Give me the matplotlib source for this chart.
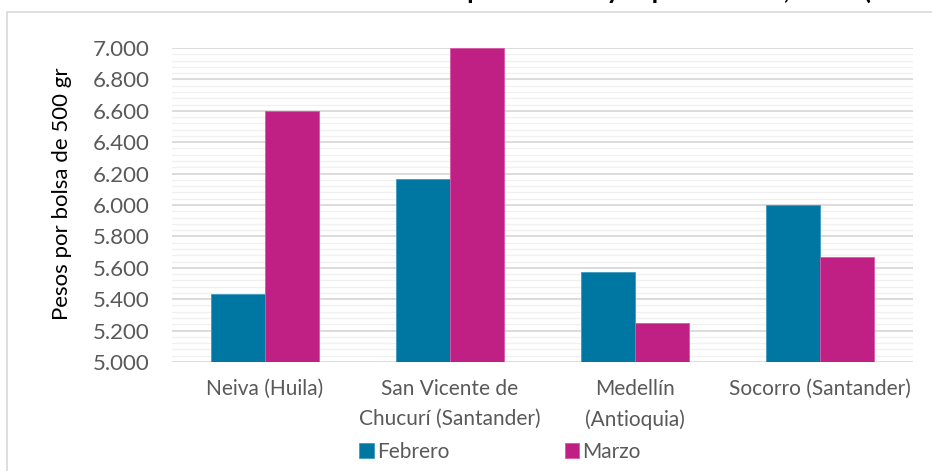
import matplotlib
matplotlib.use("Agg")
import matplotlib.pyplot as plt
from matplotlib.patches import Rectangle
from matplotlib.ticker import FuncFormatter, MultipleLocator
import numpy as np

plt.rcParams['font.family'] = ['Lato', 'DejaVu Sans']

categories = ["Neiva (Huila)", "San Vicente de\nChucurí (Santander)",
              "Medellín\n(Antioquia)", "Socorro (Santander)"]
febrero = [5433, 6167, 5571, 6000]
marzo = [6600, 7000, 5250, 5667]
series_names = ["Febrero", "Marzo"]
title = "Precios de la mata de cacao en los municipios con mayor producción, 2015 (Pesos)"
ylabel = "Pesos por bolsa de 500 gr"

c_feb = "#0077A3"
c_mar = "#C01F83"

fig = plt.figure(figsize=(9.32, 4.71), dpi=100)

# chart frame
fig.patches.append(Rectangle((7 / 932, -0.1), 1.2, 1 - 12 / 471 + 0.1,
                             transform=fig.transFigure, fill=False,
                             edgecolor="#D9D9D9", linewidth=1.2, zorder=0))

fig.text(0.5, 1 + 1 / 471, title, ha="center", va="baseline",
         fontsize=19, fontweight="bold", color="black")

ax = fig.add_axes([172 / 932, 1 - 362 / 471, (913 - 172) / 932, (362 - 48) / 471])
x = np.arange(len(categories))
w = 0.292
ax.bar(x - w / 2, febrero, w, color=c_feb, edgecolor="#3d9bc0", linewidth=0.6,
       label=series_names[0], zorder=3)
ax.bar(x + w / 2, marzo, w, color=c_mar, edgecolor="#d75aa6", linewidth=0.6,
       label=series_names[1], zorder=3)

ax.set_xlim(-0.5, len(categories) - 0.5)
ax.set_ylim(5000, 7000)
ax.yaxis.set_major_locator(MultipleLocator(200))
ax.yaxis.set_minor_locator(MultipleLocator(40))
ax.yaxis.set_major_formatter(FuncFormatter(lambda v, p: f"{v:,.0f}".replace(",", ".")))
ax.grid(which="major", axis="y", color="#D9D9D9", linewidth=1.3, zorder=0)
ax.grid(which="minor", axis="y", color="#F0F0F0", linewidth=1.0, zorder=0)
ax.set_axisbelow(True)
for s in ax.spines.values():
    s.set_visible(False)
ax.tick_params(axis="both", which="both", length=0)
ax.tick_params(axis="y", labelsize=16, labelcolor="#595959", pad=16)
ax.set_xticks(x)
ax.set_xticklabels(categories, fontsize=15, color="#595959", linespacing=1.65)
ax.tick_params(axis="x", pad=12)
ax.set_ylabel(ylabel, fontsize=16, color="black")
ax.yaxis.set_label_coords((72 - 172) / 741, (362 - 194) / 314)

leg = fig.legend(loc="center", bbox_to_anchor=(500 / 932, 1 - 452 / 471), ncol=2,
                 frameon=False, fontsize=15, handlelength=0.7, handleheight=0.7,
                 handletextpad=0.15, columnspacing=5.55, labelcolor="#595959")

fig.savefig("out.png", dpi=100)
